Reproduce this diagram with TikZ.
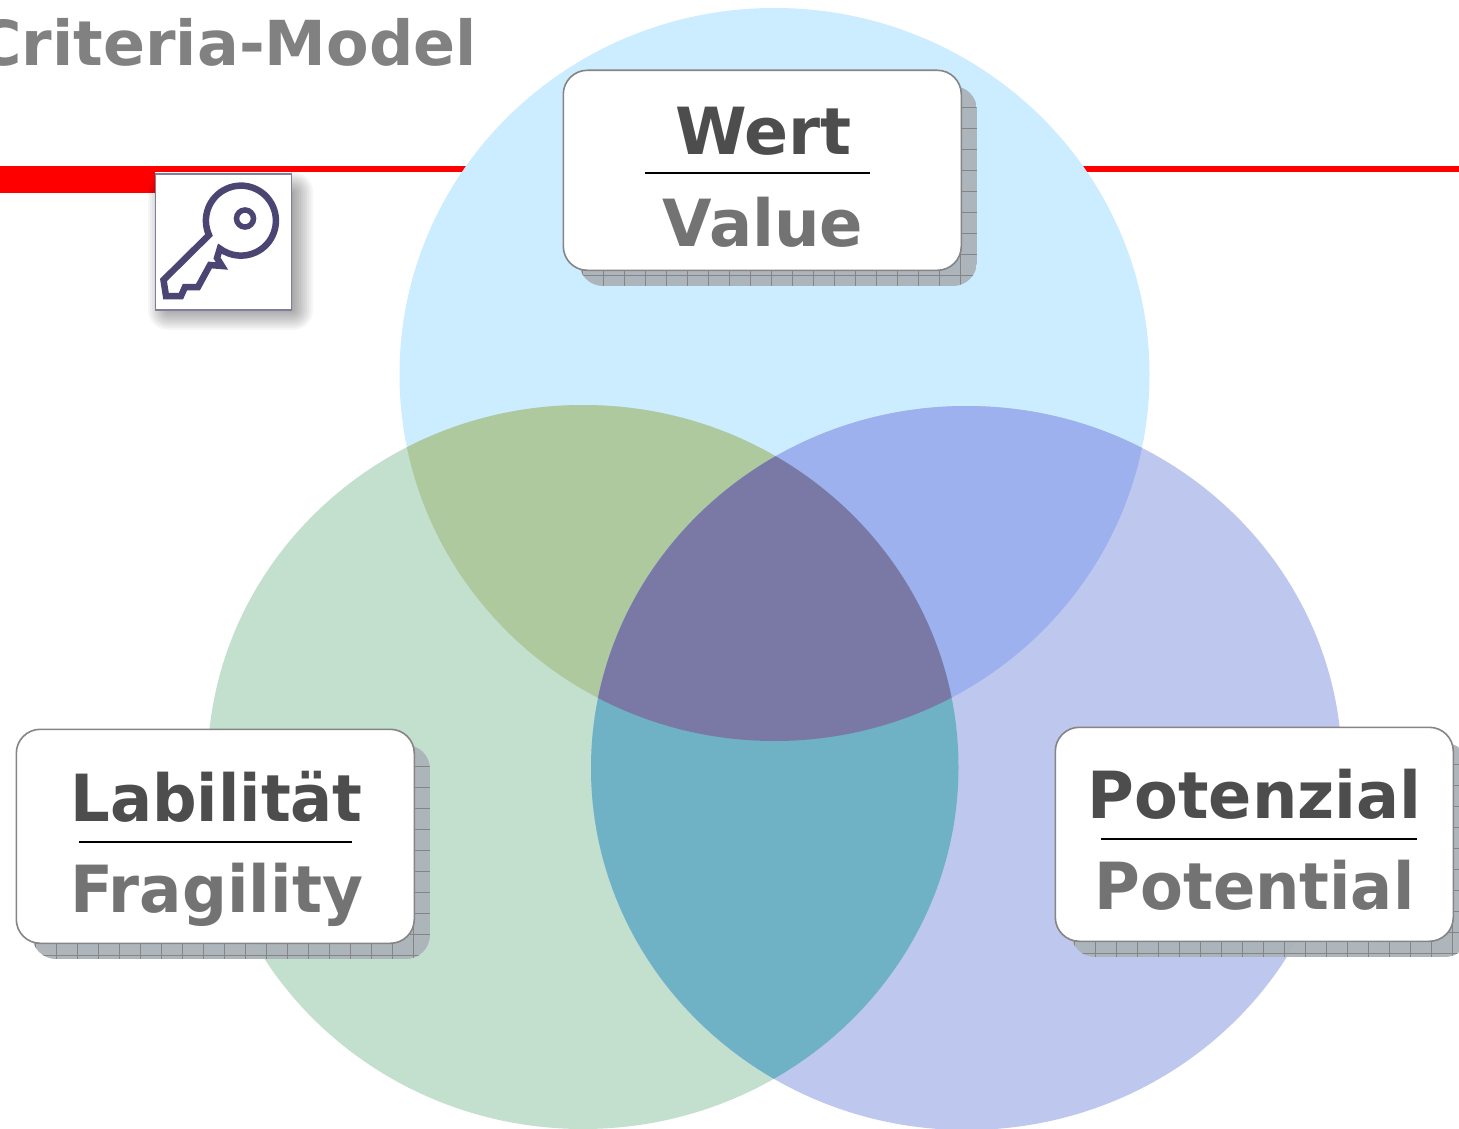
\documentclass[tikz,border=0pt]{standalone}
\usepackage{fontspec}
\setmainfont{DejaVu Sans}
\definecolor{cTop}{HTML}{CCECFF}
\definecolor{cGreen}{HTML}{C3E0CF}
\definecolor{cBlue}{HTML}{BEC7EE}
\definecolor{cTG}{HTML}{AEC99E}
\definecolor{cTB}{HTML}{9DB1EE}
\definecolor{cGB}{HTML}{6FB2C5}
\definecolor{cAll}{HTML}{7A79A6}
\definecolor{cDark}{HTML}{4D4D4D}
\definecolor{cMid}{HTML}{737373}
\definecolor{cKey}{HTML}{4A4573}
\definecolor{cRed}{HTML}{FF0000}
\definecolor{cShadow}{HTML}{ABB3B8}
\definecolor{cGrid}{HTML}{858585}
\tikzset{
  labelbox/.style={draw=cGrid,line width=1.6pt,fill=white,rounded corners=24pt,minimum width=398pt,anchor=north west,inner sep=0pt},
  toptext/.style={font=\bfseries\fontsize{65}{70}\selectfont,text=cDark,anchor=base,inner sep=0pt,transform shape},
  subtext/.style={font=\bfseries\fontsize{65}{70}\selectfont,text=cMid,anchor=base,inner sep=0pt,transform shape},
  rulel/.style={draw=black,line width=1.6pt},
  topcirc/.style={x radius=375pt,y radius=366.5pt},
  lowcirc/.style={x radius=375.5pt,y radius=362pt},
}
\newcommand{\mkshadow}[4]{% x y w h
  \begin{scope}
    \clip[rounded corners=24pt] (#1,#2) rectangle ++(#3,#4);
    \fill[cShadow,opacity=.95] (#1,#2) rectangle ++(#3,#4);
    \foreach \gx in {3,24,...,420} \draw[cGrid,line width=.7pt] ({#1+\gx},#2) -- ++(0,#4);
    \foreach \gy in {0,21,...,230} \draw[cGrid,line width=.7pt] (#1,{#2+\gy}) -- ++(#3,0);
  \end{scope}}
\begin{document}
\begin{tikzpicture}[x=1pt,y=-1pt]
\useasboundingbox (0,0) rectangle (1459,1129);
\fill[white] (0,0) rectangle (1459,1129);
% title and red rule
\begin{scope}
  \clip (0,0) rectangle (1459,1129);
  \node[font=\bfseries\fontsize{62}{66}\selectfont,text=cMid!90!white,anchor=base east,inner sep=0pt] (title) at (477,66) {Criteria-Model};
\end{scope}
\fill[cRed] (0,166) rectangle (1459,172);
\fill[cRed] (0,166) rectangle (155,193);
% key icon
\foreach \s in {0,2,...,20}
  \fill[black,opacity=.035,rounded corners={\s*1pt}] ({168-\s},{192-\s}) rectangle ({293+\s},{310+\s});
\node[draw=cKey!70!white,line width=1.6pt,fill=white,minimum size=136pt,inner sep=0pt,anchor=north west] (keybox) at (154.5,173) {};
\draw[cKey,line width=6.5pt,line join=miter]
  (163.5,280) -- (209,235)
  arc[start angle=155.8,end angle=487,radius=35]
  -- (217,258) -- (222,266) -- (210,265) -- (198,287) -- (185,287) -- (181,296) -- (166,296) -- cycle;
\draw[cKey,line width=5.5pt] (245,218.5) circle[radius=8.5pt];
% circles
\coordinate (cT) at (774.5,374.5);
\coordinate (cL) at (583,767);
\coordinate (cR) at (966.5,768);
\fill[cTop] (cT) circle[topcirc];
\fill[cGreen] (cL) circle[lowcirc];
\fill[cBlue] (cR) circle[lowcirc];
\begin{scope}\clip (cT) circle[topcirc]; \fill[cTG] (cL) circle[lowcirc];\end{scope}
\begin{scope}\clip (cT) circle[topcirc]; \fill[cTB] (cR) circle[lowcirc];\end{scope}
\begin{scope}\clip (cL) circle[lowcirc]; \fill[cGB] (cR) circle[lowcirc];\end{scope}
\begin{scope}\clip (cT) circle[topcirc]; \clip (cL) circle[lowcirc]; \fill[cAll] (cR) circle[lowcirc];\end{scope}
% Wert box
\mkshadow{579}{86}{398}{200}
\node[labelbox,minimum height=200pt] (boxW) at (562.5,69.5) {};
\node[toptext] (wert) at (763.5,155) {Wert};
\node[subtext,xscale=.985] (value) at (763,246) {Value};
\coordinate (wa) at (645,173); \coordinate (wb) at (870,173);
\draw[rulel] (wa) -- (wb);
% Labilitaet box
\mkshadow{32}{745}{398}{214}
\node[labelbox,minimum height=214pt] (boxL) at (15.5,728.5) {};
\node[toptext,xscale=.96] (lab) at (216.5,821) {Labilität};
\node[subtext,xscale=.967] (fra) at (216.5,912) {Fragility};
\coordinate (la) at (79,842); \coordinate (lb) at (352,842);
\draw[rulel] (la) -- (lb);
% Potenzial box
\mkshadow{1071}{743}{398}{214}
\node[labelbox,minimum height=214pt] (boxP) at (1054.5,726.5) {};
\node[toptext,xscale=.982] (pot) at (1254.5,818) {Potenzial};
\node[subtext,xscale=.96] (poe) at (1254.5,909) {Potential};
\coordinate (pa) at (1101,839); \coordinate (pb) at (1417,839);
\draw[rulel] (pa) -- (pb);
\end{tikzpicture}
\end{document}
